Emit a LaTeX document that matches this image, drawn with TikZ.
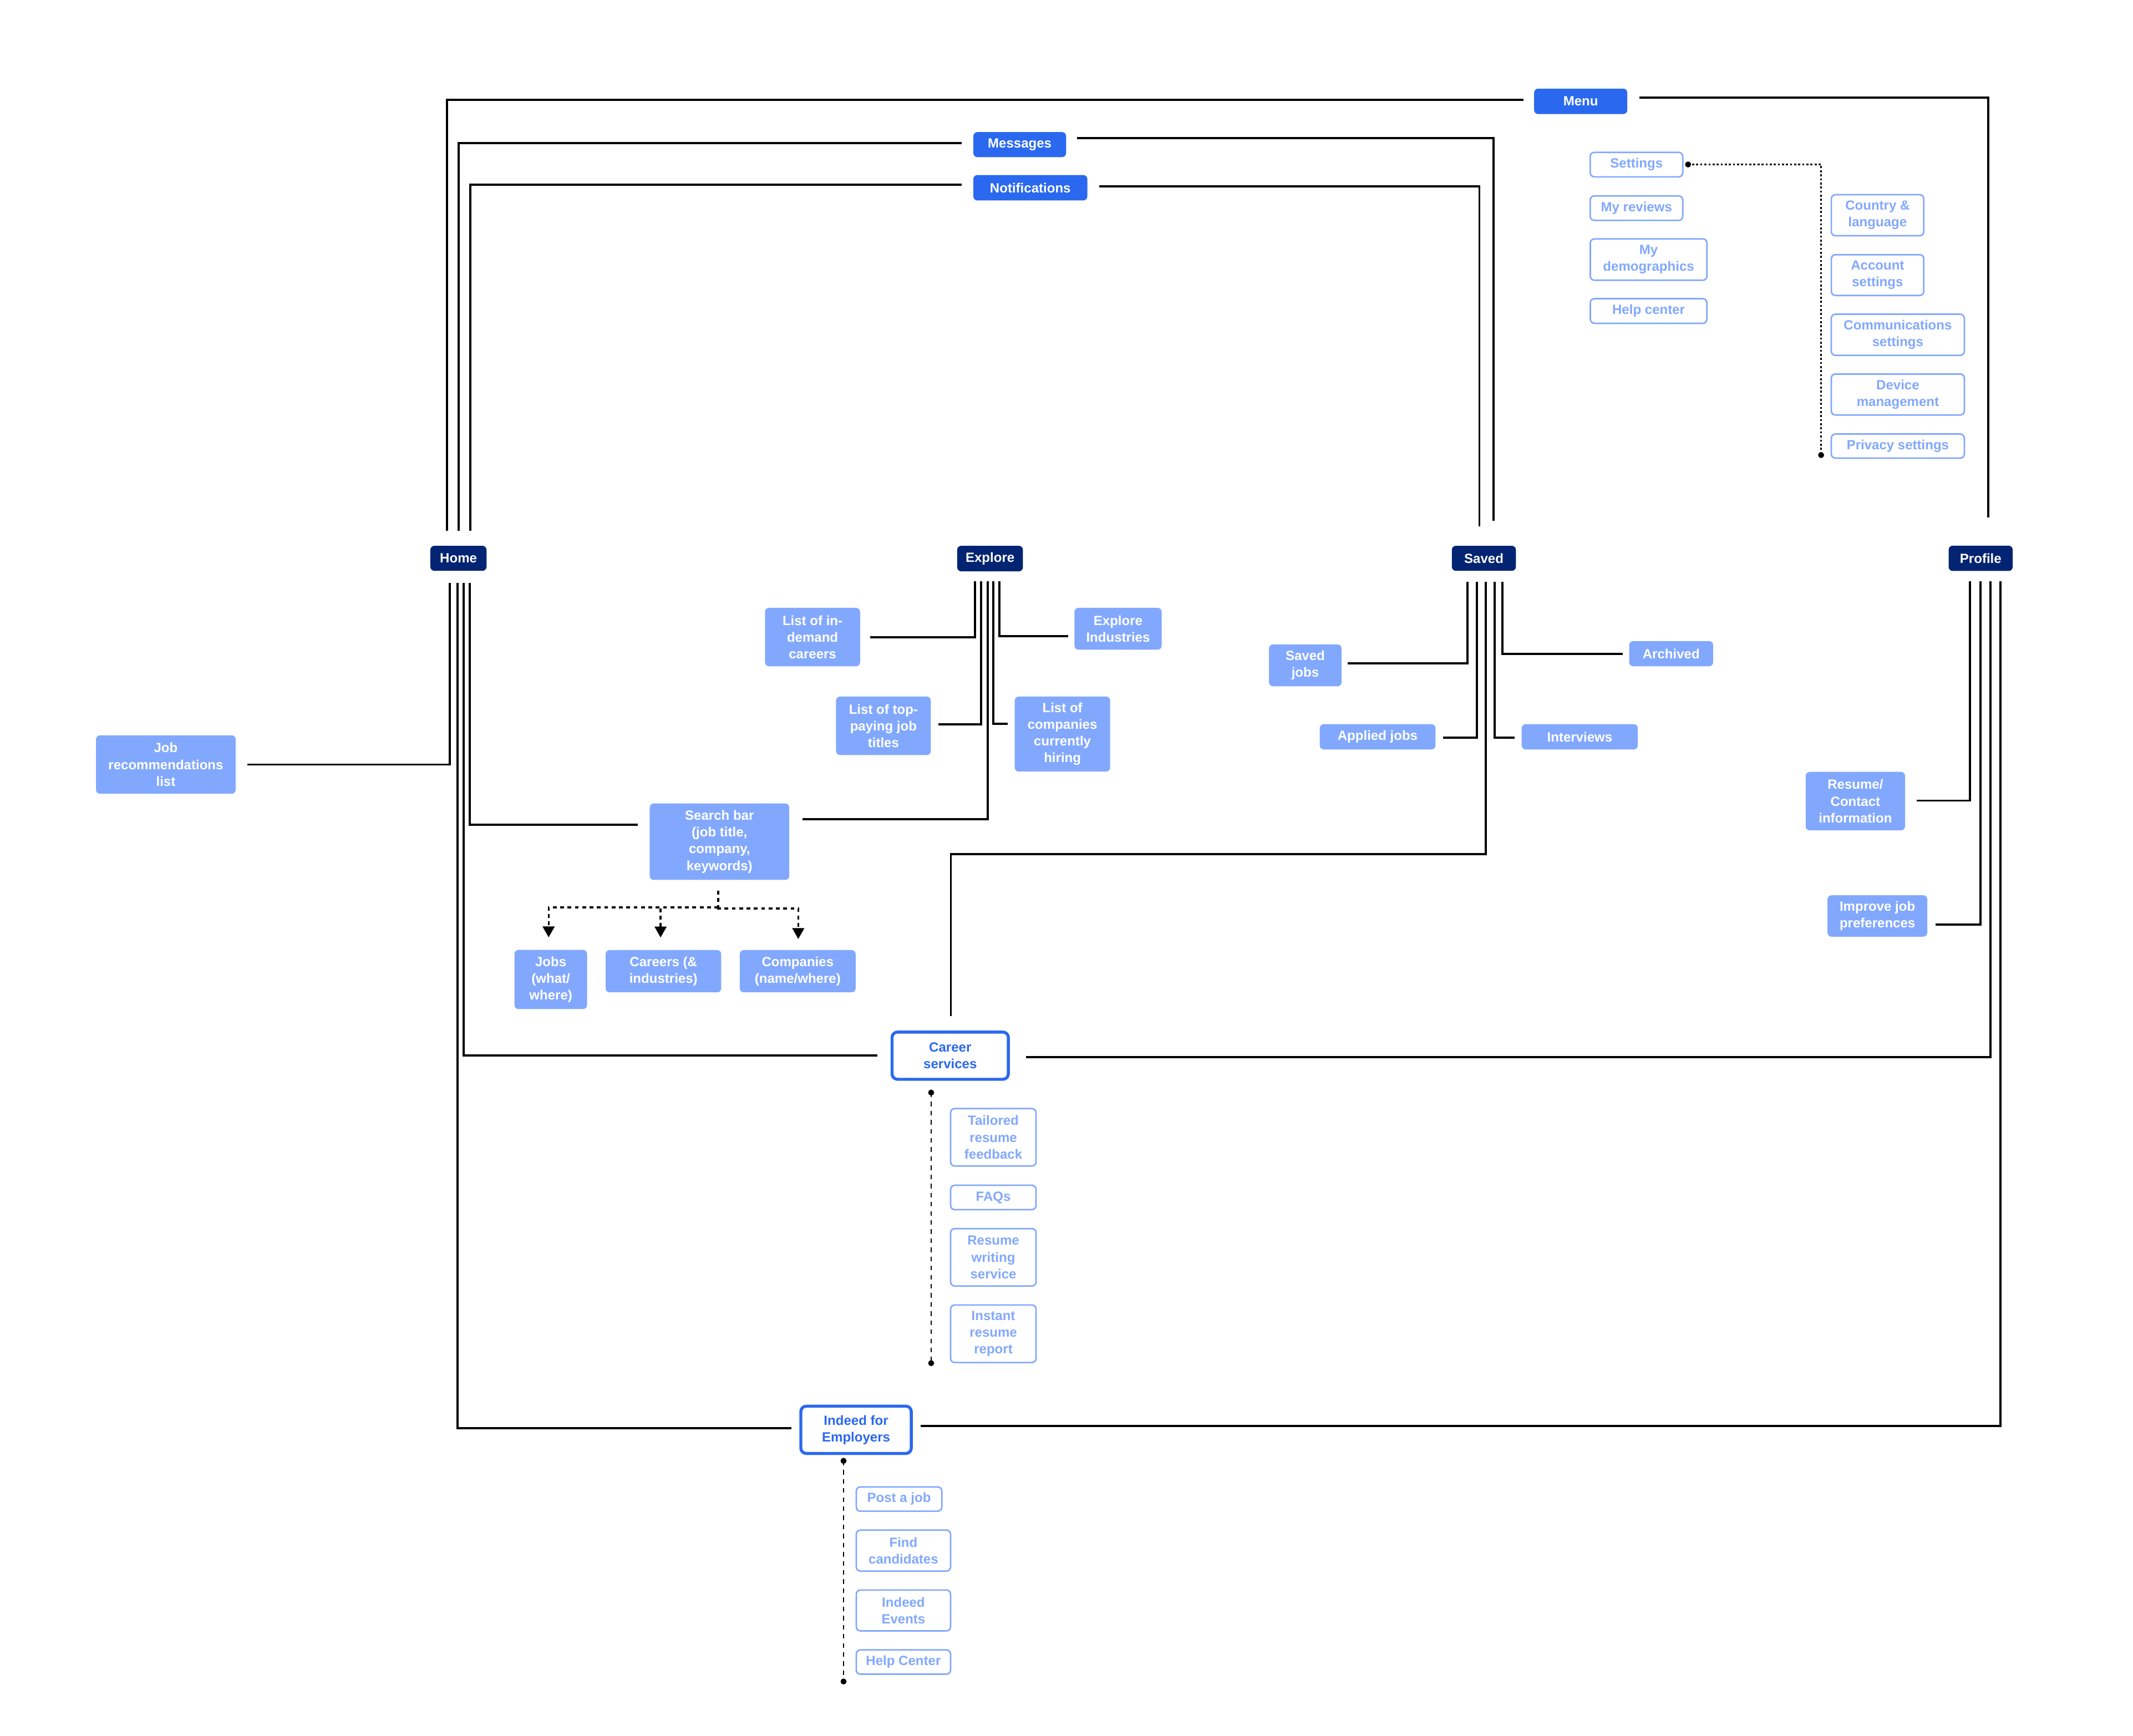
\documentclass[tikz,border=0pt]{standalone}
\usepackage{fontspec}
\setmainfont{Liberation Sans}
\usetikzlibrary{arrows.meta}
\definecolor{cblue}{RGB}{42,104,240}
\definecolor{cnavy}{RGB}{3,36,114}
\definecolor{clight}{RGB}{130,168,254}
\tikzset{
 base/.style={rectangle, rounded corners=3pt, inner sep=0pt, align=center, font=\fontsize{9.8}{12.3}\selectfont\bfseries},
 topbox/.style={base, fill=cblue, text=white},
 navbox/.style={base, fill=cnavy, text=white},
 leaf/.style={base, fill=clight, text=white},
 sub/.style={base, draw=clight, line width=1.1pt, fill=white, text=clight},
 keybox/.style={base, draw=cblue, line width=2.2pt, fill=white, text=cblue, rounded corners=4pt},
 conn/.style={line width=1.6pt, black},
 dashtree/.style={line width=1.4pt, black, dash pattern=on 2.8pt off 2.6pt},
 dashconn/.style={line width=1.1pt, black, dash pattern=on 3.4pt off 3.3pt},
 dotconn/.style={line width=1pt, black, dash pattern=on 1.5pt off 1.5pt},
 dotmark/.style={circle, fill=black, inner sep=0pt, minimum size=4.4pt},
 wh/.style 2 args={minimum width=#1pt, minimum height=#2pt},
}
\begin{document}
\begin{tikzpicture}[x=1pt,y=-1pt]
\path[use as bounding box, fill=white] (0,0) rectangle (1568,1276);

% top menu items
\node[topbox, wh={68.5}{18.7}] (menu) at (1162,74.5) {Menu};
\node[topbox, wh={68.2}{18.4}] (msg) at (749.6,106.3) {Messages};
\node[topbox, wh={83.8}{18.7}] (notif) at (757.4,138) {Notifications};

% settings panel
\node[sub, wh={68}{18}] (settings) at (1203,121) {Settings};
\node[sub, wh={68}{18}] (reviews) at (1203,153) {My reviews};
\node[sub, wh={85.7}{30.4}] (demog) at (1211.9,190.8) {My\\demographics};
\node[sub, wh={85.7}{18.1}] (helpctr) at (1211.9,228.6) {Help center};
\node[sub, wh={67.9}{30.2}] (country) at (1380.2,158.2) {Country \&\\language};
\node[sub, wh={67.9}{30}] (account) at (1380.2,202.2) {Account\\settings};
\node[sub, wh={97.8}{30.2}] (comms) at (1395.1,246.1) {Communications\\settings};
\node[sub, wh={97.8}{30.1}] (device) at (1395.1,290) {Device\\management};
\node[sub, wh={97.8}{17.7}] (privacy) at (1395.1,327.9) {Privacy settings};
\node[dotmark] (sd1) at (1240.9,120.9) {};
\node[dotmark] (sd2) at (1338.7,334.5) {};
\draw[dotconn] (sd1.center) -| (sd2.center);

% navigation bar
\node[navbox, wh={41.3}{18.4}] (home) at (337,410.4) {Home};
\node[navbox, wh={48.3}{18.8}] (explore) at (727.8,410.6) {Explore};
\node[navbox, wh={47.1}{18.4}] (saved) at (1090.8,410.4) {Saved};
\node[navbox, wh={47.1}{18.6}] (profile) at (1456,410.4) {Profile};

% leaves
\node[leaf, wh={102.7}{43}] (jobrec) at (121.9,562) {Job\\recommendations\\list};
\node[leaf, wh={69.9}{43}] (indemand) at (597.3,468.3) {List of in-\\demand\\careers};
\node[leaf, wh={69.7}{43}] (toppay) at (649.4,533.5) {List of top-\\paying job\\titles};
\node[leaf, wh={70.1}{55.2}] (companies) at (781,539.6) {List of\\companies\\currently\\hiring};
\node[leaf, wh={64.1}{30.8}] (industries) at (821.9,462.2) {Explore\\Industries};
\node[leaf, wh={102.6}{56.2}] (search) at (528.9,618.7) {Search bar\\(job title,\\company,\\keywords)};
\node[leaf, wh={53.4}{43.5}] (jobs) at (404.9,720) {Jobs\\(what/\\where)};
\node[leaf, wh={85}{31.1}] (careers) at (487.7,713.9) {Careers (\&\\industries)};
\node[leaf, wh={85.2}{31.1}] (comps) at (586.4,713.9) {Companies\\(name/where)};
\node[leaf, wh={53.3}{30.8}] (savedjobs) at (959.5,489.1) {Saved\\jobs};
\node[leaf, wh={85.1}{18.6}] (applied) at (1012.7,541.6) {Applied jobs};
\node[leaf, wh={85.4}{18.6}] (interviews) at (1161.3,541.6) {Interviews};
\node[leaf, wh={61.7}{18.6}] (archived) at (1228.5,480.5) {Archived};
\node[leaf, wh={73.1}{43}] (resume) at (1363.9,588.9) {Resume/\\Contact\\information};
\node[leaf, wh={73.4}{30.4}] (improve) at (1380.1,673.3) {Improve job\\preferences};

% career services
\node[keybox, wh={85.5}{34.7}] (career) at (698.5,776) {Career\\services};
\node[sub, wh={62.8}{42.2}] (tailored) at (730.2,836) {Tailored\\resume\\feedback};
\node[sub, wh={62.8}{17.9}] (faqs) at (730.2,880.2) {FAQs};
\node[sub, wh={62.8}{42.2}] (writing) at (730.2,924.2) {Resume\\writing\\service};
\node[sub, wh={62.8}{42.3}] (instant) at (730.2,980.4) {Instant\\resume\\report};
\node[dotmark] (cd1) at (684.5,803.1) {};
\node[dotmark] (cd2) at (684.5,1002) {};
\draw[dashconn] (cd1.center) -- (cd2.center);

% indeed for employers
\node[keybox, wh={81.2}{34.8}] (employers) at (629.3,1051) {Indeed for\\Employers};
\node[sub, wh={62.9}{17.8}] (postjob) at (660.9,1101.9) {Post a job};
\node[sub, wh={69.3}{30.1}] (findc) at (664.1,1139.8) {Find\\candidates};
\node[sub, wh={69.3}{30}] (events) at (664.1,1183.8) {Indeed\\Events};
\node[sub, wh={69.3}{17.8}] (helpc) at (664.1,1221.7) {Help Center};
\node[dotmark] (ed1) at (620.1,1073.8) {};
\node[dotmark] (ed2) at (620.1,1236) {};
\draw[dashconn] (ed1.center) -- (ed2.center);

% top connectors
\draw[conn] ([xshift=-7.7pt,yshift=1.1pt]menu.west) -| ([xshift=-8.4pt,yshift=10.9pt]home.north);
\draw[conn] ([xshift=8.6pt,yshift=2.9pt]menu.east) -| ([xshift=5.6pt,yshift=20.7pt]profile.north);
\draw[conn] ([xshift=-8.5pt,yshift=1pt]msg.west) -| ([xshift=0.2pt,yshift=10.9pt]home.north);
\draw[conn] ([xshift=7.8pt,yshift=4.7pt]msg.east) -| ([xshift=7.1pt,yshift=18.2pt]saved.north);
\draw[conn] ([xshift=-8.5pt,yshift=2.4pt]notif.west) -| ([xshift=8.7pt,yshift=10.9pt]home.north);
\draw[conn] ([xshift=8.4pt,yshift=1.2pt]notif.east) -| ([xshift=-3.3pt,yshift=14.2pt]saved.north);

% home connectors
\draw[conn] ([xshift=-6.5pt,yshift=-8.8pt]home.south) |- ([xshift=8.4pt]jobrec.east);
\draw[conn] ([xshift=-0.8pt,yshift=-8.8pt]home.south) |- ([xshift=-5.7pt,yshift=1.1pt]employers.west);
\draw[conn] ([xshift=3.8pt,yshift=-8.8pt]home.south) |- ([xshift=-9.7pt]career.west);
\draw[conn] ([xshift=8.3pt,yshift=-8.8pt]home.south) |- ([xshift=-8.4pt,yshift=12.6pt]search.west);

% explore connectors
\draw[conn] ([xshift=-10.9pt,yshift=-7pt]explore.south) |- ([xshift=7.1pt]indemand.east);
\draw[conn] ([xshift=-6.5pt,yshift=-7pt]explore.south) |- ([xshift=5.3pt,yshift=0.9pt]toppay.east);
\draw[conn] ([xshift=-1.8pt,yshift=-7pt]explore.south) |- ([xshift=9.7pt,yshift=16.4pt]search.east);
\draw[conn] ([xshift=2.5pt,yshift=-7pt]explore.south) |- ([xshift=-5pt,yshift=7.7pt]companies.west);
\draw[conn] ([xshift=7pt,yshift=-7pt]explore.south) |- ([xshift=-4.3pt,yshift=-5.6pt]industries.west);

% search tree
\coordinate (jct) at ([xshift=-0.9pt,yshift=-20pt]search.south);
\draw[dashtree] ([xshift=-0.9pt,yshift=-7.7pt]search.south) -- (jct);
\draw[dashtree, -{Triangle[length=8pt,width=8.6pt]}] (jct) -| ([xshift=-1.6pt,yshift=9pt]jobs.north);
\draw[dashtree, -{Triangle[length=8pt,width=8.6pt]}] (jct) -| ([xshift=-2.1pt,yshift=9pt]careers.north);
\draw[dashtree, -{Triangle[length=8pt,width=8.6pt]}] (jct) |- ++(0.8,0.8) -| ([xshift=0.4pt,yshift=7.9pt]comps.north);

% saved connectors
\draw[conn] ([xshift=-12pt,yshift=-7.7pt]saved.south) |- ([xshift=4.4pt,yshift=1.6pt]savedjobs.east);
\draw[conn] ([xshift=-5.1pt,yshift=-7.7pt]saved.south) |- ([xshift=5.3pt,yshift=-0.5pt]applied.east);
\draw[conn] ([xshift=1.3pt,yshift=-7.7pt]saved.south) |- ([xshift=0.5pt,yshift=129.6pt]career.north) -- ([xshift=0.5pt,yshift=10.6pt]career.north);
\draw[conn] ([xshift=8.1pt,yshift=-7.7pt]saved.south) |- ([xshift=-5pt,yshift=-0.5pt]interviews.west);
\draw[conn] ([xshift=13.7pt,yshift=-7.7pt]saved.south) |- ([xshift=-4.6pt]archived.west);

% profile connectors
\draw[conn] ([xshift=-7.7pt,yshift=-7.5pt]profile.south) |- ([xshift=8.2pt,yshift=0.4pt]resume.east);
\draw[conn] ([xshift=-0.1pt,yshift=-7.5pt]profile.south) |- ([xshift=5.8pt,yshift=-6.5pt]improve.east);
\draw[conn] ([xshift=7.3pt,yshift=-7.5pt]profile.south) |- ([xshift=12pt,yshift=-0.9pt]career.east);
\draw[conn] ([xshift=14.4pt,yshift=-7.5pt]profile.south) |- ([xshift=5.7pt,yshift=2.7pt]employers.east);
\end{tikzpicture}
\end{document}
